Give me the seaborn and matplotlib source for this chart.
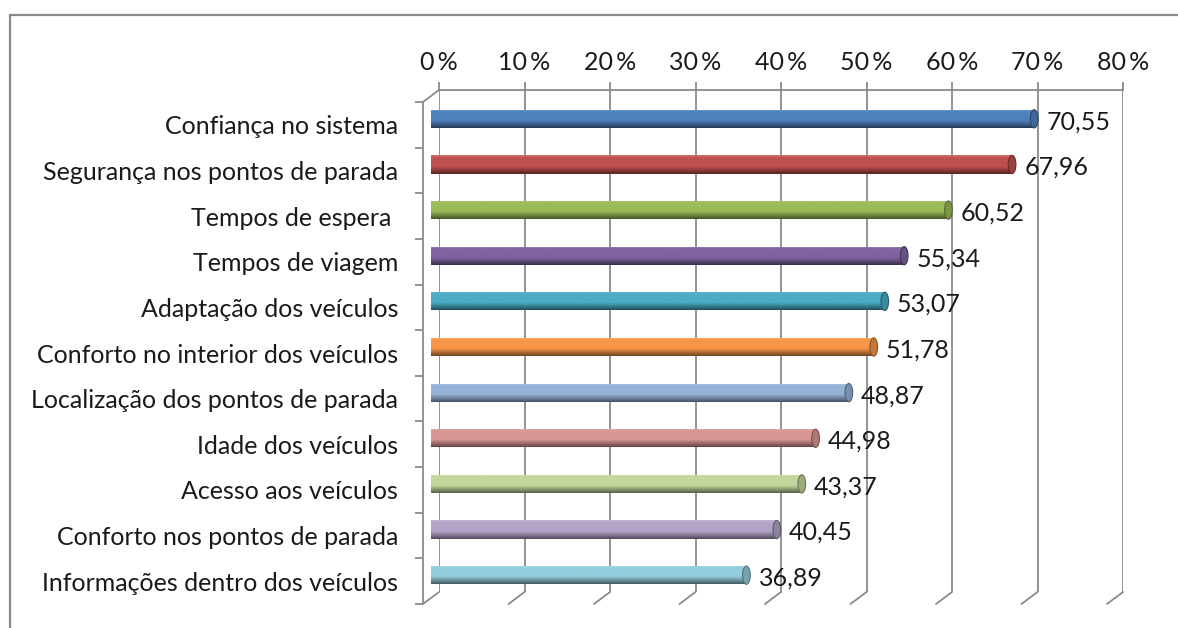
import numpy as np
import pandas as pd
import matplotlib
matplotlib.use("Agg")
import matplotlib.pyplot as plt
import matplotlib.colors as mcolors
from matplotlib.transforms import ScaledTranslation
from matplotlib.patches import Ellipse
from matplotlib.lines import Line2D
import seaborn as sns

categories = [
    "Confiança no sistema",
    "Segurança nos pontos de parada",
    "Tempos de espera ",
    "Tempos de viagem",
    "Adaptação dos veículos",
    "Conforto no interior dos veículos",
    "Localização dos pontos de parada",
    "Idade dos veículos",
    "Acesso aos veículos",
    "Conforto nos pontos de parada",
    "Informações dentro dos veículos",
]
values = [70.55, 67.96, 60.52, 55.34, 53.07, 51.78, 48.87, 44.98, 43.37, 40.45, 36.89]
value_labels = ["70,55", "67,96", "60,52", "55,34", "53,07", "51,78",
                "48,87", "44,98", "43,37", "40,45", "36,89"]
bar_colors = ["#4F81BD", "#C0504D", "#9BBB59", "#8064A2", "#4BACC6", "#F79646",
              "#95B3D7", "#D99694", "#C3D69B", "#B3A2C7", "#93CDDD"]
tick_values = [0, 10, 20, 30, 40, 50, 60, 70, 80]
tick_labels = ["0\u2009%", "10\u2009%", "20\u2009%", "30\u2009%", "40\u2009%",
               "50\u2009%", "60\u2009%", "70\u2009%", "80\u2009%"]

W, H = 1178, 628
grid_gray = "#8a8a8a"
text_color = "#1a1a1a"
fsize = 18

sns.set_style("white")
plt.rcParams["font.family"] = ["Lato", "DejaVu Sans"]


def shade(color, f):
    rgb = np.array(mcolors.to_rgb(color))
    if f >= 1:
        return tuple(rgb + (1 - rgb) * (f - 1))
    return tuple(rgb * f)


def gradient(color, n=64):
    t = np.linspace(0, 1, n)
    rows = []
    for v in t:
        if v < 0.15:
            f = 1.2 - v * 1.3
        elif v < 0.6:
            f = 1.0
        else:
            f = 1.0 - (v - 0.6) / 0.4 * 0.55
        rows.append(shade(color, f))
    return np.array(rows).reshape(n, 1, 3)


fig = plt.figure(figsize=(W / 100, H / 100), dpi=100)
ax = fig.add_axes([439 / W, 1 - 592 / H, (1123 - 439) / W, (592 - 90) / H])

df = pd.DataFrame({"cat": categories, "val": values})
sns.barplot(data=df, x="val", y="cat", hue="cat", palette=bar_colors,
            legend=False, width=0.4, saturation=1, ax=ax)

# oblique 3D offsets: mid plane for bars, front plane for walls
mid = ax.transData + ScaledTranslation(-0.08, -0.06, fig.dpi_scale_trans)
front = ax.transData + ScaledTranslation(-0.16, -0.12, fig.dpi_scale_trans)

cap_w = 0.9
for p in list(ax.patches):
    x0, y0, w, h = p.get_x(), p.get_y(), p.get_width(), p.get_height()
    i = int(round(y0 + h / 2))
    col = bar_colors[i]
    p.set_transform(mid)
    p.set_facecolor(col)
    p.set_edgecolor("none")
    p.set_zorder(2)
    # rounded start
    ax.add_patch(Ellipse((x0, y0 + h / 2), cap_w, h, transform=mid,
                         facecolor=shade(col, 0.85), edgecolor="none", zorder=1.9))
    im = ax.imshow(gradient(col), extent=[x0, x0 + w, y0 + h, y0], aspect="auto",
                   transform=mid, zorder=2.1, interpolation="bilinear")
    im.set_clip_path(p)
    # end cap
    ax.add_patch(Ellipse((x0 + w, y0 + h / 2), cap_w, h, transform=mid,
                         facecolor=shade(col, 0.8), edgecolor=shade(col, 0.55),
                         lw=0.8, zorder=2.2))
    ax.annotate(value_labels[i], xy=(x0 + w, i), xytext=(3, -6.5),
                textcoords="offset points", ha="left", va="center",
                fontsize=fsize, color=text_color, zorder=3)

ax.set_xlim(0, 80)
ax.set_ylim(10.5, -0.5)
ax.set_xlabel("")
ax.set_ylabel("")

ax.xaxis.tick_top()
ax.set_xticks(tick_values, tick_labels)
ax.tick_params(axis="x", length=5.8, width=1.3, color=grid_gray, pad=6,
               labelsize=fsize, labelcolor=text_color)
ax.grid(axis="x", color=grid_gray, lw=1.3)
ax.grid(axis="y", visible=False)
ax.set_axisbelow(True)
for s in ["left", "right", "bottom"]:
    ax.spines[s].set_visible(False)
ax.spines["top"].set_color(grid_gray)
ax.spines["top"].set_linewidth(1.3)

ax.tick_params(axis="y", length=0, pad=29.5, labelsize=fsize, labelcolor=text_color)
for lab in ax.get_yticklabels():
    lab.set_transform(lab.get_transform() + ScaledTranslation(0, -0.12, fig.dpi_scale_trans))

# front left wall edge and category separators
ax.plot([0, 0], [-0.5, 10.5], color=grid_gray, lw=1.3, transform=front, clip_on=False)
bounds = np.arange(-0.5, 11, 1.0)
ax.plot(np.zeros(len(bounds)), bounds, ls="none", marker="_", ms=5.8, mew=1.3,
        color=grid_gray, transform=front + ScaledTranslation(-0.04, 0, fig.dpi_scale_trans),
        clip_on=False)

# diagonals between back wall and front plane
to_fig = fig.transFigure.inverted()


def diag(x, y):
    a = to_fig.transform(ax.transData.transform((x, y)))
    b = to_fig.transform(front.transform((x, y)))
    fig.add_artist(Line2D([a[0], b[0]], [a[1], b[1]], color=grid_gray, lw=1.3,
                          transform=fig.transFigure))


diag(0, -0.5)
for t in tick_values:
    diag(t, 10.5)

# outer chart border (top and left)
fig.add_artist(Line2D([10 / W, 1], [1 - 15 / H, 1 - 15 / H], color=grid_gray, lw=1.6,
                      transform=fig.transFigure))
fig.add_artist(Line2D([10 / W, 10 / W], [0, 1 - 15 / H], color=grid_gray, lw=1.6,
                      transform=fig.transFigure))

fig.savefig("out.png", dpi=100, facecolor="white")
